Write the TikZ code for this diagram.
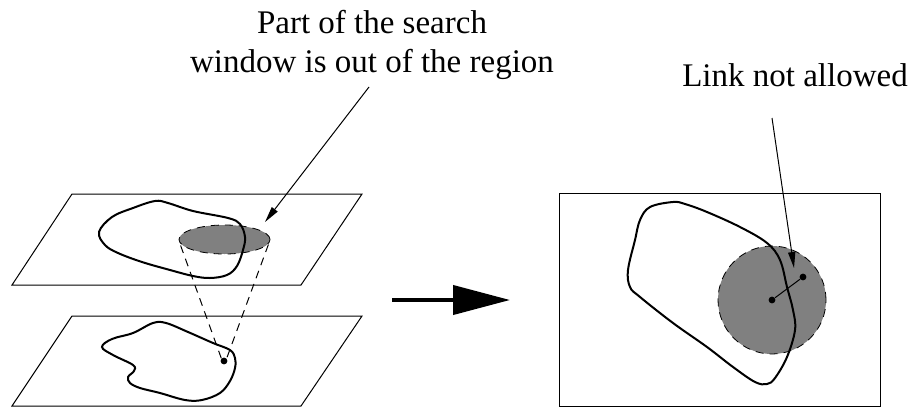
\documentclass[tikz,border=0pt]{standalone}
\usepackage{fontspec}
\setmainfont{Liberation Serif}
\usepackage{tikz}
\usetikzlibrary{arrows.meta,shapes.geometric}

\begin{document}
\begin{tikzpicture}[
			x=0.5pt, y=-0.5pt,
			plane/.style={draw, line width=0.5pt},
			region/.style={draw, line width=1pt, smooth cycle, tension=0.6},
			window/.style={draw, fill=gray, dash pattern=on 4pt off 3pt, line width=0.4pt, inner sep=0pt},
			proj/.style={line width=0.5pt, dash pattern=on 4pt off 3pt},
			dot/.style={circle, fill=black, inner sep=0pt, minimum size=3.4pt},
			pointer/.style={line width=0.5pt, -{Triangle[length=8pt,width=3.6pt]}},
			bigarrow/.style={line width=2pt, -{Triangle[length=28.5pt,width=14.5pt]}},
			label/.style={font=\fontsize{16.5}{19.5}\selectfont, inner sep=0pt}
			]
			\useasboundingbox (0,0) rectangle (913,407);
			
			% two levels on the left
			\draw[plane] (72,194) -- (362,194) -- (301,285) -- (12,285) -- cycle;
			\draw[plane] (72,316) -- (362,316) -- (301,406) -- (12,406) -- cycle;
			
			\node[window, ellipse, minimum width=45.5pt, minimum height=14.5pt] (win) at (224.5,239.5) {};
			\draw[region] plot coordinates {(99,232) (112,217) (133,208) (155,201) (168,203) (193,211) (228,218) (240,224) (245,237) (243,250) (237,266) (227,275) (210,278) (193,276) (170,270) (142,262) (118,253) (105,245)};
			\draw[region] plot coordinates {(102,347) (112,339) (133,333) (153,323) (166,323) (188,332) (213,343) (230,350) (235,358) (235,368) (230,381) (220,393) (202,400) (185,400) (160,393) (140,388) (130,383) (128,377) (134,371) (133,365) (113,355)};
			
			\node[dot] (pix) at (224,361) {};
			\draw[proj] (win.west) ++(2,6) -- (pix.north west);
			\draw[proj] (win.east) ++(-2,5) -- (pix.north east);
			
			\coordinate (go) at (392,300);
			\coordinate (gotip) at (510,300);
			\draw[bigarrow] (go) -- (gotip);
			
			% result on the right
			\draw[plane] (559,193) rectangle (880,406);
			\node[window, circle, minimum size=54pt] (disc) at (772,300) {};
			\draw[region] plot coordinates {(673,202) (650,207) (640,220) (635,240) (628,270) (630,287) (640,297) (673,323) (707,347) (733,367) (755,382) (767,384) (775,378) (787,357) (795,330) (793,310) (787,287) (780,260) (767,243) (740,227) (707,212) (685,204)};
			\node[dot] (p) at (772,300) {};
			\node[dot] (q) at (803,277) {};
			\draw[line width=0.5pt] (p) -- (q);
			
			% labels
			\node[label, align=center, anchor=base] (searchlbl) at (372,72) {Part of the search\\window is out of the region};
			\node[label, anchor=base] (linklbl) at (795,86) {Link not allowed};
			\coordinate (s1) at (369,87);
			\coordinate (s1tip) at (265,222);
			\coordinate (s2) at (772,118);
			\coordinate (s2tip) at (794,268);
			\draw[pointer] (s1) -- (s1tip);
			\draw[pointer] (s2) -- (s2tip);
		\end{tikzpicture}
\end{document}
